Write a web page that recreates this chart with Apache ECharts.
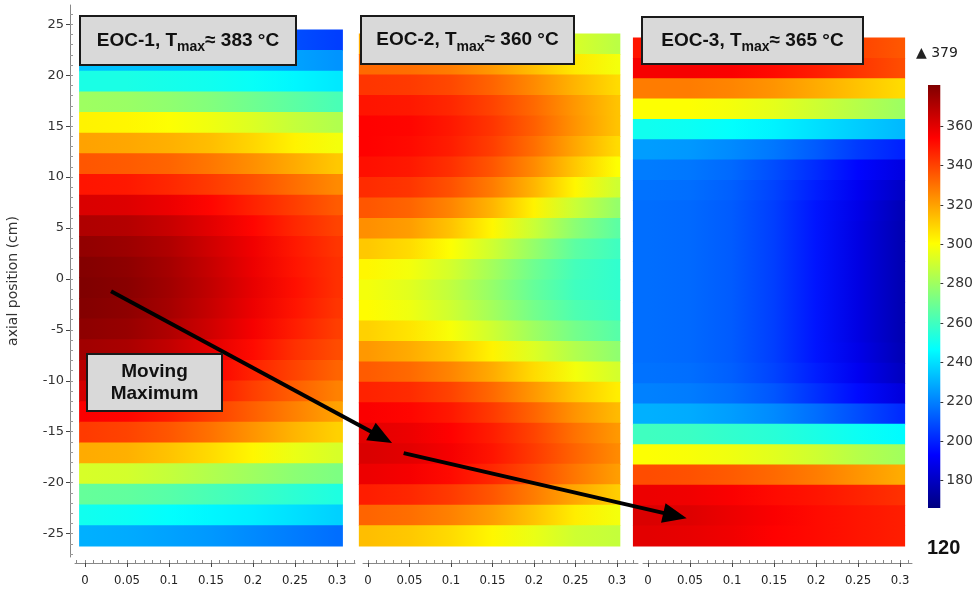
<!DOCTYPE html>
<html>
<head>
<meta charset="utf-8">
<title>EOC axial temperature</title>
<script src="https://cdn.jsdelivr.net/npm/echarts@6/dist/echarts.min.js"></script>
<style>
html, body { margin: 0; padding: 0; background: #fff; }
#main { width: 976px; height: 595px; }
</style>
</head>
<body>
<div id="main"></div>
<script>
// radial sample positions of every map row
var radialPos = [0, 0.05, 0.1, 0.15, 0.2, 0.25, 0.3];
var radialTicks = [0, 0.05, 0.1, 0.15, 0.2, 0.25, 0.3];
var axialTicks = [25, 20, 15, 10, 5, 0, -5, -10, -15, -20, -25];
var colorTicks = [180, 200, 220, 240, 260, 280, 300, 320, 340, 360];
var colorRange = [166, 381];
var tempMax = 379, tempMin = 120;

var panelNames = ['EOC-1', 'EOC-2', 'EOC-3'];
var panelTmax = [383, 360, 365];
// extent of each map in (r, z), top to bottom
var axialExtent = [[24.5, -26.2], [24.1, -26.2], [23.7, -26.2]];
var radialExtent = [[-0.007, 0.307], [-0.011, 0.304], [-0.018, 0.306]];

// temperature (degC), rows from top to bottom, columns follow radialPos
var eoc1Temp = [
    [216, 216, 215, 214, 212, 209, 206],
    [234, 234, 233, 232, 230, 227, 224],
    [252, 252, 251, 250, 248, 245, 242],
    [280, 279, 277, 274, 270, 266, 262],
    [303, 302, 300, 297, 293, 288, 284],
    [320, 319, 317, 314, 309, 303, 298],
    [336, 335, 333, 329, 324, 318, 312],
    [350, 349, 346, 342, 337, 331, 325],
    [362, 361, 358, 353, 347, 341, 335],
    [371, 370, 366, 360, 353, 346, 340],
    [377, 375, 371, 364, 357, 349, 343],
    [380, 378, 373, 366, 358, 350, 344],
    [381, 379, 374, 367, 359, 351, 344],
    [380, 378, 373, 366, 358, 350, 343],
    [378, 376, 371, 364, 356, 348, 341],
    [374, 372, 367, 360, 352, 344, 338],
    [369, 367, 362, 355, 347, 340, 333],
    [363, 361, 356, 349, 341, 334, 327],
    [355, 353, 348, 341, 334, 327, 320],
    [342, 340, 336, 330, 323, 316, 310],
    [318, 317, 313, 308, 302, 296, 292],
    [292, 291, 288, 284, 280, 276, 273],
    [268, 267, 265, 262, 259, 256, 253],
    [250, 249, 247, 245, 243, 240, 237],
    [230, 229, 227, 225, 222, 219, 216]
];
var eoc2Temp = [
    [318, 317, 314, 308, 300, 292, 286],
    [332, 331, 328, 322, 314, 305, 298],
    [343, 342, 339, 333, 325, 316, 308],
    [350, 349, 346, 340, 332, 322, 313],
    [354, 353, 349, 343, 334, 323, 313],
    [354, 352, 348, 341, 331, 319, 308],
    [351, 349, 344, 336, 325, 312, 300],
    [345, 343, 337, 328, 316, 302, 290],
    [336, 333, 326, 316, 303, 289, 278],
    [324, 321, 313, 302, 289, 276, 266],
    [312, 308, 300, 290, 278, 266, 260],
    [302, 298, 291, 281, 270, 261, 257],
    [298, 294, 287, 278, 268, 260, 257],
    [301, 297, 290, 281, 271, 263, 259],
    [310, 306, 299, 290, 280, 271, 265],
    [322, 318, 312, 303, 293, 284, 277],
    [335, 332, 326, 318, 308, 298, 291],
    [347, 345, 340, 332, 322, 312, 304],
    [355, 353, 349, 342, 333, 323, 315],
    [360, 358, 354, 348, 340, 330, 322],
    [362, 360, 356, 350, 342, 333, 325],
    [358, 356, 352, 346, 338, 329, 321],
    [348, 346, 342, 336, 328, 319, 311],
    [333, 331, 327, 321, 313, 304, 298],
    [314, 312, 308, 302, 296, 290, 288]
];
var eoc3Temp = [
    [350, 350, 349, 347, 344, 340, 336],
    [356, 356, 355, 352, 348, 343, 338],
    [328, 328, 326, 323, 318, 313, 308],
    [300, 300, 298, 295, 290, 285, 280],
    [250, 249, 247, 244, 240, 236, 232],
    [226, 225, 222, 218, 212, 205, 200],
    [219, 218, 215, 209, 202, 194, 187],
    [217, 216, 213, 207, 199, 190, 181],
    [216, 215, 212, 206, 197, 188, 178],
    [216, 215, 212, 206, 197, 187, 177],
    [216, 215, 212, 206, 197, 187, 177],
    [216, 215, 212, 206, 197, 187, 177],
    [216, 215, 212, 206, 197, 187, 177],
    [216, 215, 212, 206, 197, 187, 177],
    [216, 215, 212, 206, 197, 187, 177],
    [216, 215, 212, 206, 197, 188, 178],
    [217, 216, 213, 207, 199, 190, 180],
    [220, 219, 216, 211, 203, 195, 186],
    [230, 229, 226, 222, 216, 209, 202],
    [260, 259, 257, 255, 252, 249, 246],
    [300, 299, 297, 294, 290, 285, 281],
    [338, 337, 335, 332, 328, 323, 318],
    [358, 357, 355, 352, 350, 347, 344],
    [362, 361, 358, 355, 352, 350, 348],
    [360, 359, 357, 354, 352, 350, 348]
];
var panelTemps = [eoc1Temp, eoc2Temp, eoc3Temp];

// where the hot spot sits, (r, z) - start/end of the two arrows
var maxPathA = [[0.031, -1.2], [0.029, -16.1]];
var maxPathB = [[0.043, -17.1], [0.046, -23.5]];

var gridBoxes = [
    { left: 75, width: 280 },
    { left: 363, width: 275 },
    { left: 643, width: 269 }
];
var radialAxisRange = [[-0.0119, 0.3214], [-0.006, 0.3253], [-0.006, 0.3142]];
var axialAxisRange = [-27.3, 26.9];

var condFont = '"DejaVu Sans Condensed", "Liberation Sans Narrow", "Roboto Condensed", "DejaVu Sans", sans-serif';
var plainFont = '"DejaVu Sans", Verdana, sans-serif';
var boldFont = '"Liberation Sans", Arial, sans-serif';

function clamp(v) { return Math.max(0, Math.min(1, v)); }
function jet(v) {
    var t = clamp((v - colorRange[0]) / (colorRange[1] - colorRange[0]));
    var r = clamp(1.5 - Math.abs(4 * t - 3));
    var g = clamp(1.5 - Math.abs(4 * t - 2));
    var b = clamp(1.5 - Math.abs(4 * t - 1));
    return 'rgb(' + Math.round(r * 255) + ',' + Math.round(g * 255) + ',' + Math.round(b * 255) + ')';
}

function buildRows(p) {
    var temps = panelTemps[p];
    var zTop = axialExtent[p][0], zBot = axialExtent[p][1];
    var h = (zTop - zBot) / temps.length;
    return temps.map(function (row, i) {
        return [zTop - i * h, zTop - (i + 1) * h].concat(row);
    });
}

function mapRenderer(p) {
    var rl = radialExtent[p][0], rr = radialExtent[p][1];
    return function (params, api) {
        var p0 = api.coord([rl, api.value(0)]);
        var p1 = api.coord([rr, api.value(1)]);
        var stops = [{ offset: 0, color: jet(api.value(2)) }];
        for (var k = 0; k < radialPos.length; k++) {
            stops.push({ offset: (radialPos[k] - rl) / (rr - rl), color: jet(api.value(2 + k)) });
        }
        stops.push({ offset: 1, color: jet(api.value(1 + radialPos.length)) });
        return {
            type: 'rect',
            shape: { x: p0[0], y: p0[1], width: p1[0] - p0[0], height: p1[1] - p0[1] + 0.8 },
            style: { fill: new echarts.graphic.LinearGradient(0, 0, 1, 0, stops) }
        };
    };
}

var minorR = [];
for (var m = -1; m <= 32; m++) minorR.push(m / 100);
var minorZ = [];
for (var n = -27; n <= 26; n++) minorZ.push(n);

var grids = [], xAxes = [], yAxes = [], series = [];
for (var p = 0; p < 3; p++) {
    grids.push({ left: gridBoxes[p].left, width: gridBoxes[p].width, top: 5, bottom: 38 });
    xAxes.push({
        type: 'value', gridIndex: p, position: 'bottom', offset: 6,
        min: radialAxisRange[p][0], max: radialAxisRange[p][1],
        axisLine: { show: true, onZero: false, lineStyle: { color: '#888', width: 1 } },
        axisTick: { show: true, customValues: radialTicks, length: 4, lineStyle: { color: '#444' } },
        axisLabel: { customValues: radialTicks, margin: 11, fontFamily: condFont, fontSize: 13, color: '#222' },
        splitLine: { show: false }
    });
    yAxes.push({
        type: 'value', gridIndex: p, show: p === 0, position: 'left',
        min: axialAxisRange[0], max: axialAxisRange[1],
        offset: 5,
        name: p === 0 ? 'axial position (cm)' : '',
        nameLocation: 'middle', nameGap: 50,
        nameTextStyle: { fontFamily: plainFont, fontSize: 14, color: '#333' },
        axisLine: { show: true, onZero: false, lineStyle: { color: '#888' } },
        axisTick: { show: true, customValues: axialTicks, length: 4, lineStyle: { color: '#444' } },
        axisLabel: { customValues: axialTicks, margin: 6, fontFamily: plainFont, fontSize: 13, color: '#333' },
        splitLine: { show: false }
    });
    series.push({
        type: 'custom', name: panelNames[p],
        xAxisIndex: p, yAxisIndex: p,
        clip: false, silent: true,
        renderItem: mapRenderer(p),
        data: buildRows(p)
    });
}
// minor ticks
for (var q = 0; q < 3; q++) {
    xAxes.push({
        type: 'value', gridIndex: q, position: 'bottom', offset: 6,
        min: radialAxisRange[q][0], max: radialAxisRange[q][1],
        axisLine: { show: false, onZero: false },
        axisTick: { show: true, inside: true, customValues: minorR, length: 3, lineStyle: { color: '#888' } },
        axisLabel: { show: false }, splitLine: { show: false }
    });
}
yAxes.push({
    type: 'value', gridIndex: 0, position: 'left', offset: 5,
    min: axialAxisRange[0], max: axialAxisRange[1],
    axisLine: { show: false, onZero: false },
    axisTick: { show: true, inside: true, customValues: minorZ, length: 3, lineStyle: { color: '#999' } },
    axisLabel: { show: false }, splitLine: { show: false }
});

// colour bar
grids.push({ left: 928, width: 13, top: 85, bottom: 87 });
xAxes.push({ type: 'value', gridIndex: 3, show: false, min: 0, max: 1 });
yAxes.push({
    type: 'value', gridIndex: 3, position: 'right',
    min: colorRange[0], max: colorRange[1],
    axisLine: { show: false, onZero: false },
    axisTick: { show: true, customValues: colorTicks, length: 3, lineStyle: { color: '#333' } },
    axisLabel: { customValues: colorTicks, margin: 6, fontFamily: plainFont, fontSize: 14, color: '#333' },
    splitLine: { show: false }
});
series.push({
    type: 'custom', name: 'colour bar',
    xAxisIndex: 6, yAxisIndex: 4, silent: true, clip: false,
    renderItem: function (params, api) {
        var p0 = api.coord([0, api.value(2)]);
        var p1 = api.coord([1, api.value(1)]);
        var ts = [0, 0.125, 0.375, 0.625, 0.875, 1];
        var stops = ts.map(function (t) {
            return { offset: 1 - t, color: jet(colorRange[0] + t * (colorRange[1] - colorRange[0])) };
        }).reverse();
        return {
            type: 'rect',
            shape: { x: p0[0], y: p0[1], width: p1[0] - p0[0], height: p1[1] - p0[1] },
            style: { fill: new echarts.graphic.LinearGradient(0, 0, 0, 1, stops) }
        };
    },
    data: [[0, colorRange[0], colorRange[1]]]
});

var chart = echarts.init(document.getElementById('main'));
chart.setOption({
    animation: false,
    backgroundColor: '#fff',
    grid: grids,
    xAxis: xAxes,
    yAxis: yAxes,
    series: series
});

function labelBox(x, y, w, h, text, rich) {
    return {
        type: 'group', x: x, y: y,
        children: [
            { type: 'rect', z: 100, shape: { x: 0, y: 0, width: w, height: h },
              style: { fill: '#d9d9d9', stroke: '#1a1a1a', lineWidth: 2 } },
            { type: 'text', z: 101, x: w / 2, y: h / 2,
              style: { text: text, rich: rich, align: 'center', verticalAlign: 'middle',
                       fontFamily: boldFont, fontWeight: 'bold', fontSize: 19, fill: '#111', lineHeight: 22 } }
        ]
    };
}
var titleRich = {
    a: { fontFamily: boldFont, fontWeight: 'bold', fontSize: 19, fill: '#111', lineHeight: 20 },
    s: { fontFamily: boldFont, fontWeight: 'bold', fontSize: 14, fill: '#111', lineHeight: 10, padding: [14, 0, 0, 0] }
};
function titleText(p) {
    return '{a|' + panelNames[p] + ', T}{s|max}{a|\u2248 ' + panelTmax[p] + ' \u00b0C}';
}

function arrow(a, b) {
    var dx = b[0] - a[0], dy = b[1] - a[1];
    var len = Math.sqrt(dx * dx + dy * dy);
    var ux = dx / len, uy = dy / len;
    var hl = 24, hw = 10;
    var bx = b[0] - ux * hl, by = b[1] - uy * hl;
    return [
        { type: 'line', z: 90, shape: { x1: a[0], y1: a[1], x2: bx + ux * 2, y2: by + uy * 2 },
          style: { stroke: '#000', lineWidth: 4 } },
        { type: 'polygon', z: 90,
          shape: { points: [[b[0], b[1]], [bx - uy * hw, by + ux * hw], [bx + uy * hw, by - ux * hw]] },
          style: { fill: '#000' } }
    ];
}

var a1 = chart.convertToPixel({ gridIndex: 0 }, maxPathA[0]);
var b1 = chart.convertToPixel({ gridIndex: 1 }, maxPathA[1]);
var a2 = chart.convertToPixel({ gridIndex: 1 }, maxPathB[0]);
var b2 = chart.convertToPixel({ gridIndex: 2 }, maxPathB[1]);

var graphics = [
    labelBox(80, 16, 216, 49, titleText(0), titleRich),
    labelBox(361, 16, 213, 48, titleText(1), titleRich),
    labelBox(642, 17, 221, 47, titleText(2), titleRich),
    labelBox(87, 354, 135, 57, 'Moving\nMaximum', null),
    { type: 'text', x: 916, y: 53, z: 100,
      style: { text: '\u25B2 ' + tempMax, fontFamily: plainFont, fontSize: 14, fill: '#222', verticalAlign: 'middle' } },
    { type: 'text', x: 927, y: 548, z: 100,
      style: { text: String(tempMin), fontFamily: boldFont, fontWeight: 'bold', fontSize: 20, fill: '#111', verticalAlign: 'middle' } }
].concat(arrow(a1, b1), arrow(a2, b2));

chart.setOption({ graphic: graphics });
</script>
</body>
</html>
